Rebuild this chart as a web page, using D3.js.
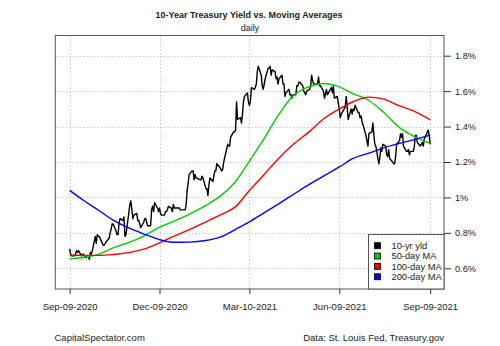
<!DOCTYPE html>
<html><head><meta charset="utf-8">
<script src="https://cdn.jsdelivr.net/npm/d3@7"></script>
<style>
body{margin:0;background:#fff}
svg{display:block}
text{font-family:"Liberation Sans",Arial,Helvetica,sans-serif;fill:#222}
</style>
</head><body>
<svg id="c" width="500" height="346"></svg>
<script>
// ---------------- DATA ----------------
const dates = [
"2020-09-09","2020-09-10","2020-09-11","2020-09-14","2020-09-15","2020-09-16","2020-09-17","2020-09-18","2020-09-21","2020-09-22","2020-09-23","2020-09-24","2020-09-25","2020-09-28","2020-09-29","2020-09-30",
"2020-10-01","2020-10-02","2020-10-05","2020-10-06","2020-10-07","2020-10-08","2020-10-09","2020-10-13","2020-10-14","2020-10-15","2020-10-16","2020-10-19","2020-10-20","2020-10-21","2020-10-22","2020-10-23","2020-10-26","2020-10-27","2020-10-28","2020-10-29","2020-10-30",
"2020-11-02","2020-11-03","2020-11-04","2020-11-05","2020-11-06","2020-11-09","2020-11-10","2020-11-12","2020-11-13","2020-11-16","2020-11-17","2020-11-18","2020-11-19","2020-11-20","2020-11-23","2020-11-24","2020-11-25","2020-11-27","2020-11-30",
"2020-12-01","2020-12-02","2020-12-03","2020-12-04","2020-12-07","2020-12-08","2020-12-09","2020-12-10","2020-12-11","2020-12-14","2020-12-15","2020-12-16","2020-12-17","2020-12-18","2020-12-21","2020-12-22","2020-12-23","2020-12-24","2020-12-28","2020-12-29","2020-12-30","2020-12-31",
"2021-01-04","2021-01-05","2021-01-06","2021-01-07","2021-01-08","2021-01-11","2021-01-12","2021-01-13","2021-01-14","2021-01-15","2021-01-19","2021-01-20","2021-01-21","2021-01-22","2021-01-25","2021-01-26","2021-01-27","2021-01-28","2021-01-29",
"2021-02-01","2021-02-02","2021-02-03","2021-02-04","2021-02-05","2021-02-08","2021-02-09","2021-02-10","2021-02-11","2021-02-12","2021-02-16","2021-02-17","2021-02-18","2021-02-19","2021-02-22","2021-02-23","2021-02-24","2021-02-25","2021-02-26",
"2021-03-01","2021-03-02","2021-03-03","2021-03-04","2021-03-05","2021-03-08","2021-03-09","2021-03-10","2021-03-11","2021-03-12","2021-03-15","2021-03-16","2021-03-17","2021-03-18","2021-03-19","2021-03-22","2021-03-23","2021-03-24","2021-03-25","2021-03-26","2021-03-29","2021-03-30","2021-03-31",
"2021-04-01","2021-04-02","2021-04-05","2021-04-06","2021-04-07","2021-04-08","2021-04-09","2021-04-12","2021-04-13","2021-04-14","2021-04-15","2021-04-16","2021-04-19","2021-04-20","2021-04-21","2021-04-22","2021-04-23","2021-04-26","2021-04-27","2021-04-28","2021-04-29","2021-04-30",
"2021-05-03","2021-05-04","2021-05-05","2021-05-06","2021-05-07","2021-05-10","2021-05-11","2021-05-12","2021-05-13","2021-05-14","2021-05-17","2021-05-18","2021-05-19","2021-05-20","2021-05-21","2021-05-24","2021-05-25","2021-05-26","2021-05-27","2021-05-28",
"2021-06-01","2021-06-02","2021-06-03","2021-06-04","2021-06-07","2021-06-08","2021-06-09","2021-06-10","2021-06-11","2021-06-14","2021-06-15","2021-06-16","2021-06-17","2021-06-18","2021-06-21","2021-06-22","2021-06-23","2021-06-24","2021-06-25","2021-06-28","2021-06-29","2021-06-30",
"2021-07-01","2021-07-02","2021-07-06","2021-07-07","2021-07-08","2021-07-09","2021-07-12","2021-07-13","2021-07-14","2021-07-15","2021-07-16","2021-07-19","2021-07-20","2021-07-21","2021-07-22","2021-07-23","2021-07-26","2021-07-27","2021-07-28","2021-07-29","2021-07-30",
"2021-08-02","2021-08-03","2021-08-04","2021-08-05","2021-08-06","2021-08-09","2021-08-10","2021-08-11","2021-08-12","2021-08-13","2021-08-16","2021-08-17","2021-08-18","2021-08-19","2021-08-20","2021-08-23","2021-08-24","2021-08-25","2021-08-26","2021-08-27","2021-08-30","2021-08-31",
"2021-09-01","2021-09-02","2021-09-03","2021-09-07","2021-09-08","2021-09-09"
];
const yld10 = [
0.71,0.68,0.67,0.67,0.68,0.70,0.69,0.70,0.67,0.68,0.68,0.67,0.66,0.67,0.65,0.69,
0.68,0.70,0.78,0.74,0.79,0.78,0.78,0.73,0.73,0.74,0.75,0.77,0.80,0.82,0.85,0.85,0.81,0.79,0.79,0.85,0.88,
0.87,0.89,0.78,0.79,0.83,0.96,0.98,0.88,0.90,0.91,0.87,0.87,0.85,0.83,0.86,0.88,0.88,0.84,0.84,
0.93,0.95,0.92,0.97,0.94,0.92,0.94,0.91,0.90,0.90,0.92,0.92,0.93,0.95,0.94,0.92,0.96,0.94,0.94,0.94,0.93,0.93,
0.93,0.96,1.04,1.08,1.13,1.15,1.15,1.10,1.13,1.11,1.10,1.10,1.12,1.11,1.05,1.05,1.01,1.07,1.11,
1.09,1.12,1.15,1.15,1.19,1.17,1.16,1.15,1.16,1.20,1.30,1.29,1.29,1.34,1.37,1.37,1.38,1.54,1.44,
1.45,1.42,1.47,1.54,1.57,1.59,1.54,1.52,1.54,1.62,1.61,1.62,1.64,1.71,1.74,1.69,1.63,1.61,1.64,1.67,1.73,1.73,1.74,
1.69,1.72,1.71,1.67,1.68,1.64,1.67,1.69,1.64,1.64,1.57,1.59,1.61,1.58,1.58,1.56,1.58,1.58,1.63,1.63,1.65,1.65,
1.63,1.60,1.59,1.58,1.60,1.61,1.63,1.69,1.66,1.64,1.64,1.64,1.68,1.63,1.63,1.60,1.56,1.58,1.61,1.58,
1.62,1.59,1.63,1.56,1.57,1.53,1.50,1.45,1.47,1.50,1.51,1.57,1.51,1.44,1.50,1.47,1.50,1.49,1.52,1.48,1.48,1.45,
1.46,1.43,1.35,1.32,1.29,1.36,1.37,1.42,1.35,1.30,1.29,1.19,1.22,1.28,1.26,1.30,1.29,1.24,1.23,1.27,1.22,
1.20,1.19,1.19,1.23,1.30,1.32,1.36,1.34,1.36,1.29,1.26,1.26,1.27,1.24,1.26,1.26,1.29,1.35,1.35,1.31,1.29,1.30,
1.31,1.29,1.33,1.38,1.35,1.30
];
const maDates = ["2020-09-09","2020-09-24","2020-10-09","2020-10-23","2020-11-09","2020-11-24","2020-12-09","2020-12-23",
"2021-01-08","2021-01-25","2021-02-09","2021-02-24","2021-03-10","2021-03-24","2021-04-09","2021-04-23","2021-05-10",
"2021-05-24","2021-06-09","2021-06-23","2021-07-09","2021-07-23","2021-08-09","2021-08-23","2021-09-09"];
const ma50  = [0.653,0.662,0.680,0.715,0.748,0.785,0.832,0.865,0.905,0.955,1.010,1.090,1.205,1.325,1.470,1.572,1.626,1.643,1.624,1.585,1.547,1.485,1.394,1.346,1.305];
const ma100 = [0.675,0.673,0.673,0.678,0.690,0.710,0.744,0.780,0.818,0.862,0.903,0.948,1.039,1.124,1.223,1.297,1.373,1.443,1.499,1.540,1.566,1.556,1.517,1.488,1.438];
const ma200 = [1.040,0.980,0.925,0.872,0.825,0.792,0.762,0.747,0.748,0.757,0.777,0.820,0.862,0.910,0.965,1.015,1.075,1.120,1.172,1.220,1.250,1.278,1.305,1.325,1.352];

const xTickDates  = ["2020-09-09","2020-12-09","2021-03-10","2021-06-09","2021-09-09"];
const xTickLabels = ["Sep-09-2020","Dec-09-2020","Mar-10-2021","Jun-09-2021","Sep-09-2021"];
const yTicks      = [0.6,0.8,1.0,1.2,1.4,1.6,1.8];
const yTickLabels = ["0.6%","0.8%","1%","1.2%","1.4%","1.6%","1.8%"];
const seriesNames  = ["10-yr yld","50-day MA","100-day MA","200-day MA"];
const seriesColors = ["#000000","#00cd00","#ff0000","#0000ff"];
const titleText = "10-Year Treasury Yield vs. Moving Averages";
const subtitleText = "daily";
const footLeft = "CapitalSpectator.com";
const footRight = "Data: St. Louis Fed, Treasury.gov";

// ---------------- CHART ----------------
const svg = d3.select("#c");
const L = 55.3, R = 444, T = 35.5, B = 289;
const parse = d3.utcParse("%Y-%m-%d");

const x = d3.scaleUtc()
  .domain([new Date(Date.UTC(2020,7,25,12)), new Date(Date.UTC(2021,8,23))])
  .range([L, R]);
const y = d3.scaleLinear().domain([0.6, 1.8]).range([268.3, 55.7]);

// grid
const grid = svg.append("g").attr("stroke", "#c8c8c8").attr("stroke-width", 1).attr("stroke-dasharray", "1.5,2");
grid.selectAll("line.h").data(yTicks).join("line")
  .attr("x1", L).attr("x2", R).attr("y1", d => Math.round(y(d)) + 0.5).attr("y2", d => Math.round(y(d)) + 0.5);
grid.selectAll("line.v").data(xTickDates).join("line")
  .attr("y1", T).attr("y2", B).attr("x1", d => Math.round(x(parse(d))) + 0.5).attr("x2", d => Math.round(x(parse(d))) + 0.5);

// lines
svg.append("clipPath").attr("id", "clip").append("rect").attr("x", L).attr("y", T).attr("width", R - L).attr("height", B - T);
const plot = svg.append("g").attr("clip-path", "url(#clip)");

const lineGen = d3.line().x(d => x(d[0])).y(d => y(d[1]));
const smoothGen = d3.line().x(d => x(d[0])).y(d => y(d[1])).curve(d3.curveMonotoneX);

const yldData = dates.map((d, i) => [parse(d), yld10[i]]);
plot.append("path").datum(yldData).attr("d", lineGen)
  .attr("fill", "none").attr("stroke", seriesColors[0]).attr("stroke-width", 1.4).attr("stroke-linejoin", "round");

[ma50, ma100, ma200].forEach((arr, k) => {
  const data = maDates.map((d, i) => [parse(d), arr[i]]);
  plot.append("path").datum(data).attr("d", smoothGen)
    .attr("fill", "none").attr("stroke", seriesColors[k + 1]).attr("stroke-width", 1.4);
});

// box
svg.append("rect").attr("x", L).attr("y", T).attr("width", R - L).attr("height", B - T)
  .attr("fill", "none").attr("stroke", "#555").attr("stroke-width", 1);

// axes
const yAxis = d3.axisRight(y).tickValues(yTicks).tickFormat((d, i) => yTickLabels[i]).tickSize(7).tickPadding(4).tickSizeOuter(0);
const gy = svg.append("g").attr("transform", `translate(${R},0)`).call(yAxis);
gy.select(".domain").remove();
gy.selectAll("text").attr("font-size", 9.2).attr("fill", "#222").attr("font-family", "Liberation Sans, Arial, sans-serif");
gy.selectAll("line").attr("stroke", "#333");

const xAxis = d3.axisBottom(x).tickValues(xTickDates.map(parse)).tickFormat((d, i) => xTickLabels[i]).tickSize(5).tickPadding(9).tickSizeOuter(0);
const gx = svg.append("g").attr("transform", `translate(0,${B})`).call(xAxis);
gx.select(".domain").remove();
gx.selectAll("text").attr("font-size", 9.5).attr("fill", "#222").attr("font-family", "Liberation Sans, Arial, sans-serif");
gx.selectAll("line").attr("stroke", "#333");

// legend
const lg = svg.append("g");
lg.append("rect").attr("x", 368.5).attr("y", 234.5).attr("width", R - 368.5).attr("height", B - 234.5)
  .attr("fill", "#fff").attr("stroke", "#555");
seriesNames.forEach((n, i) => {
  const cy = 245.7 + i * 10.35;
  lg.append("rect").attr("x", 374.5).attr("y", cy - 3).attr("width", 6).attr("height", 6)
    .attr("fill", seriesColors[i]).attr("stroke", "#000").attr("stroke-width", 0.8);
  lg.append("text").attr("x", 391.5).attr("y", cy + 3.2).attr("font-size", 9.3).text(n);
});

// titles
svg.append("text").attr("x", 249).attr("y", 18).attr("text-anchor", "middle")
  .attr("font-size", 9).attr("font-weight", "bold").text(titleText);
svg.append("text").attr("x", 250).attr("y", 31).attr("text-anchor", "middle")
  .attr("font-size", 9).text(subtitleText);
svg.append("text").attr("x", 54.5).attr("y", 340.5).attr("font-size", 9.5).text(footLeft);
svg.append("text").attr("x", R).attr("y", 340.5).attr("text-anchor", "end").attr("font-size", 9.5).text(footRight);
</script>
</body></html>
